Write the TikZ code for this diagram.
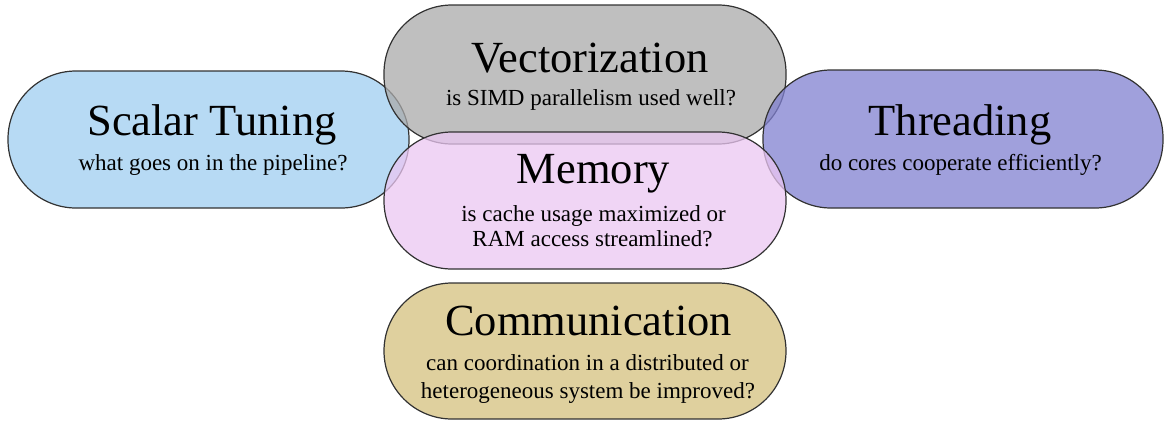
\documentclass[tikz,border=0pt]{standalone}
\usepackage{fontspec}
\setmainfont{Liberation Serif}
\definecolor{cblue}{RGB}{159,206,240}
\definecolor{cgray}{RGB}{170,170,170}
\definecolor{cpurple}{RGB}{128,128,208}
\definecolor{cpink}{RGB}{235,199,242}
\definecolor{ctan}{RGB}{212,192,126}
\definecolor{cedge}{RGB}{50,50,50}
\tikzset{
  pill/.style={draw=cedge, line width=1.2pt, fill opacity=0.75, rectangle, rounded corners=68pt, inner sep=0pt},
  ttl/.style={anchor=base, inner sep=0pt, font=\fontsize{44.5}{50}\selectfont},
  sub/.style={anchor=base, inner sep=0pt, font=\fontsize{23}{26}\selectfont},
}
\begin{document}
\begin{tikzpicture}[x=1pt,y=-1pt]
\useasboundingbox (0,0) rectangle (1164,421);
\node[pill, fill=cblue, minimum width=401pt, minimum height=137pt] (scalar) at (208.5,139.5) {};
\node[pill, fill=cgray, minimum width=402pt, minimum height=139pt] (vect) at (585,74.5) {};
\node[pill, fill=cpurple, minimum width=400pt, minimum height=138pt] (thread) at (963,139) {};
\node[pill, fill=cpink, minimum width=402pt, minimum height=137pt] (mem) at (585,200.5) {};
\node[pill, fill=ctan, minimum width=402pt, minimum height=136pt] (comm) at (585,351) {};

\node[ttl] (scalarT) at (212,135) {Scalar Tuning};
\node[sub] (scalarS) at (213,170) {what goes on in the pipeline?};
\node[ttl] (vectT) at (590,72) {Vectorization};
\node[sub] (vectS) at (591,105) {is SIMD parallelism used well?};
\node[ttl] (threadT) at (960,135) {Threading};
\node[sub] (threadS) at (960.5,170) {do cores cooperate efficiently?};
\node[ttl] (memT) at (593.5,183.3) {Memory};
\node[sub] (memS1) at (593.5,221) {is cache usage maximized or};
\node[sub] (memS2) at (592.5,246.7) {RAM access streamlined?};
\node[ttl] (commT) at (588.5,335) {Communication};
\node[sub] (commS1) at (587.5,370) {can coordination in a distributed or};
\node[sub] (commS2) at (588,398) {heterogeneous system be improved?};
\end{tikzpicture}
\end{document}
